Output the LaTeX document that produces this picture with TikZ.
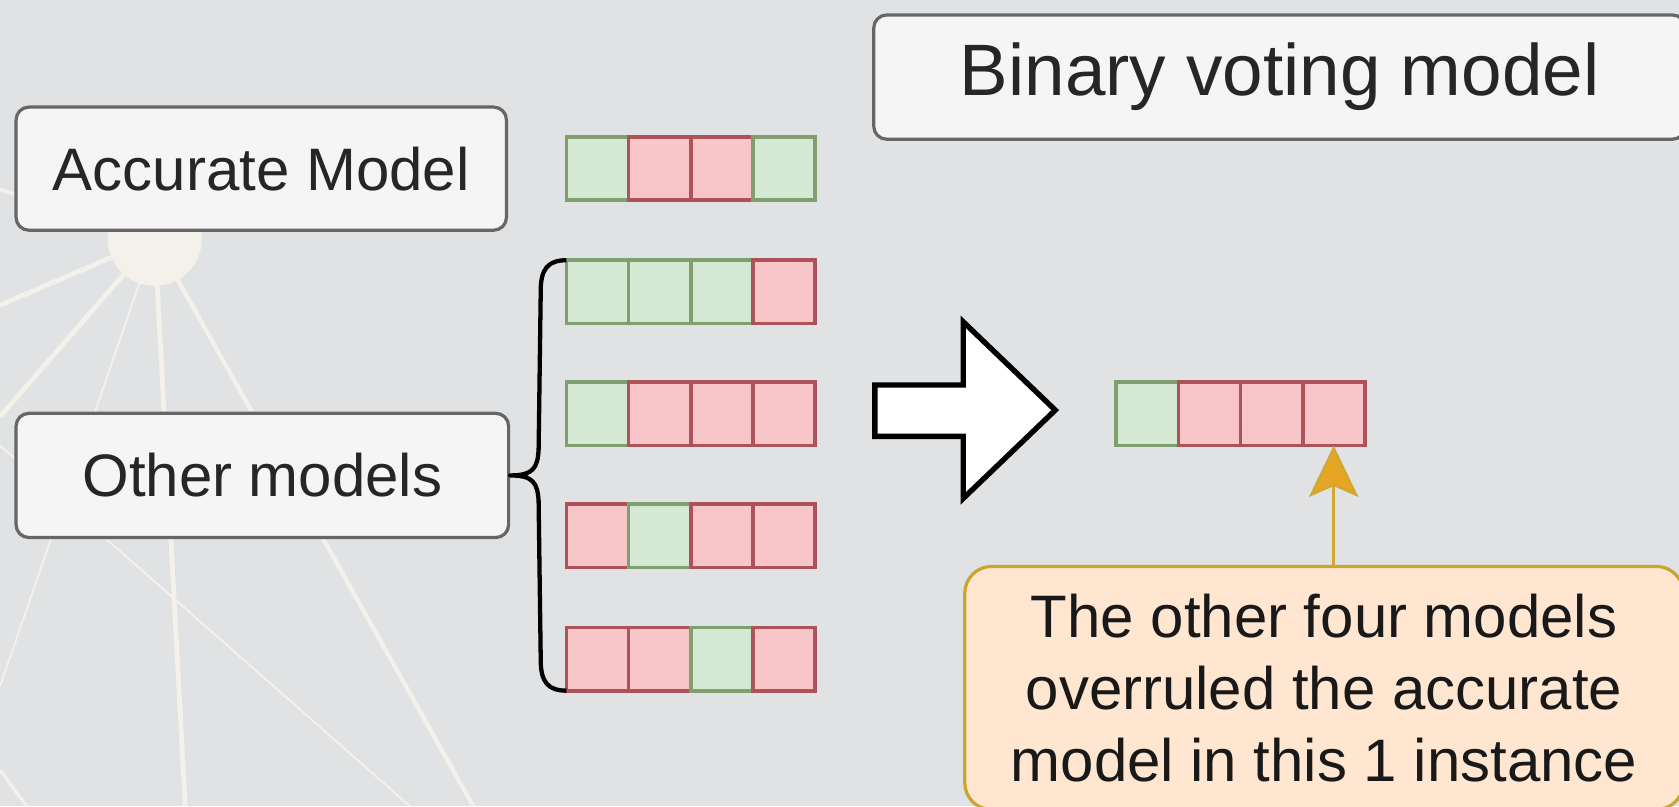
\documentclass[tikz,border=0pt]{standalone}
\usepackage{fontspec}
\setmainfont{Liberation Sans}
\usetikzlibrary{arrows.meta}
\definecolor{bgc}{HTML}{E1E2E4}
\definecolor{rayc}{HTML}{F3F1EA}
\definecolor{boxfill}{HTML}{F5F5F5}
\definecolor{boxdraw}{HTML}{666666}
\definecolor{txt}{HTML}{262626}
\definecolor{gfill}{HTML}{D5E8D4}
\definecolor{gdraw}{HTML}{7FA06E}
\definecolor{rfill}{HTML}{F8C6C9}
\definecolor{rdraw}{HTML}{AD5259}
\definecolor{calfill}{HTML}{FFE6D0}
\definecolor{caldraw}{HTML}{C9A62C}
\definecolor{annline}{HTML}{D2A832}
\definecolor{annhead}{HTML}{E6A524}
\begin{document}
\begin{tikzpicture}[x=1pt,y=-1pt,
  lbl/.style={draw=boxdraw, fill=boxfill, line width=3pt, rounded corners=12pt,
    inner sep=0pt, text=txt, font=\fontsize{56}{67}\selectfont},
  cellbase/.style={line width=3.5pt, minimum width=58pt, minimum height=59pt,
    inner sep=0pt, outer sep=0pt, anchor=north west},
  gc/.style={cellbase, draw=gdraw, fill=gfill},
  rc/.style={cellbase, draw=rdraw, fill=rfill},
  ray/.style={draw=rayc, line width=4.5pt},
  thinray/.style={draw=rayc, line width=1.8pt},
  bracepath/.style={draw=black, line width=4pt, line join=round},
  blockarrow/.style={draw=black, fill=white, line width=5pt, line join=miter},
  callout/.style={draw=caldraw, fill=calfill, line width=3pt, rounded corners=25pt,
    inner sep=0pt, text=black!90, font=\fontsize{56}{67}\selectfont, align=center},
  annarrow/.style={draw=annline, line width=2.5pt,
    -{Stealth[length=48pt, width=46pt, inset=10pt, fill=annhead]}}
]
\useasboundingbox (0,0) rectangle (1568,753);
\fill[bgc] (0,0) rectangle (1568,753);

% background starburst
\coordinate (hub) at (144.5,223);
\draw[ray, line width=3.5pt] (hub) -- (0,177);
\draw[ray] (hub) -- (0,285);
\draw[ray] (hub) -- (0,389);
\draw[thinray] (hub) -- (0,641);
\draw[ray] (hub) -- (173,753);
\draw[ray, line width=4pt] (hub) -- (442,753);
\draw[thinray] (0,416) -- (383,753);
\draw[ray, line width=3pt] (0,719) -- (25,753);
\fill[rayc] (hub) circle (44);

% label boxes
\node[lbl, minimum width=458pt, minimum height=115pt] (acc) at (244,157.5) {Accurate Model};
\node[lbl, minimum width=460pt, minimum height=116pt] (oth) at (245,444) {Other models};
\node[lbl, minimum width=758pt, minimum height=116pt, font=\fontsize{68}{80}\selectfont] (bvm) at (1195,72) {Binary voting model};

% accurate model row
\node[gc] (a1) at (529,128) {};
\node[rc] (a2) at (587,128) {};
\node[rc] (a3) at (645,128) {};
\node[gc] (a4) at (703,128) {};
% other models rows
\node[gc] (b1) at (529,243) {};
\node[gc] (b2) at (587,243) {};
\node[gc] (b3) at (645,243) {};
\node[rc] (b4) at (703,243) {};
\node[gc] (c1) at (529,357) {};
\node[rc] (c2) at (587,357) {};
\node[rc] (c3) at (645,357) {};
\node[rc] (c4) at (703,357) {};
\node[rc] (d1) at (529,471) {};
\node[gc] (d2) at (587,471) {};
\node[rc] (d3) at (645,471) {};
\node[rc] (d4) at (703,471) {};
\node[rc] (e1) at (529,586) {};
\node[rc] (e2) at (587,586) {};
\node[gc] (e3) at (645,586) {};
\node[rc] (e4) at (703,586) {};

% brace
\draw[bracepath] (b1.north west) .. controls (512,243) and (505,251) .. (505,271)
  -- (503,420) .. controls (502,437) and (498,444) .. (oth.east)
  .. controls (498,444) and (502,451) .. (503,468)
  -- (505,617) .. controls (505,637) and (512,645) .. (e1.south west);

% block arrow
\draw[blockarrow] (817,359.5) -- (899.5,359.5) -- (899.5,300.5) -- (985.5,383)
  -- (899.5,465.5) -- (899.5,407.5) -- (817,407.5) -- cycle;

% result row
\node[gc] (r1) at (1042.5,357) {};
\node[rc] (r2) at (1100.5,357) {};
\node[rc] (r3) at (1158.5,357) {};
\node[rc] (r4) at (1216.5,357) {};

% callout
\node[callout, minimum width=671pt, minimum height=227pt] (cal) at (1236.5,642.5)
  {The other four models\\overruled the accurate\\model in this 1 instance};
\draw[annarrow] (cal.north -| r4.south) -- (r4.south);
\end{tikzpicture}
\end{document}
